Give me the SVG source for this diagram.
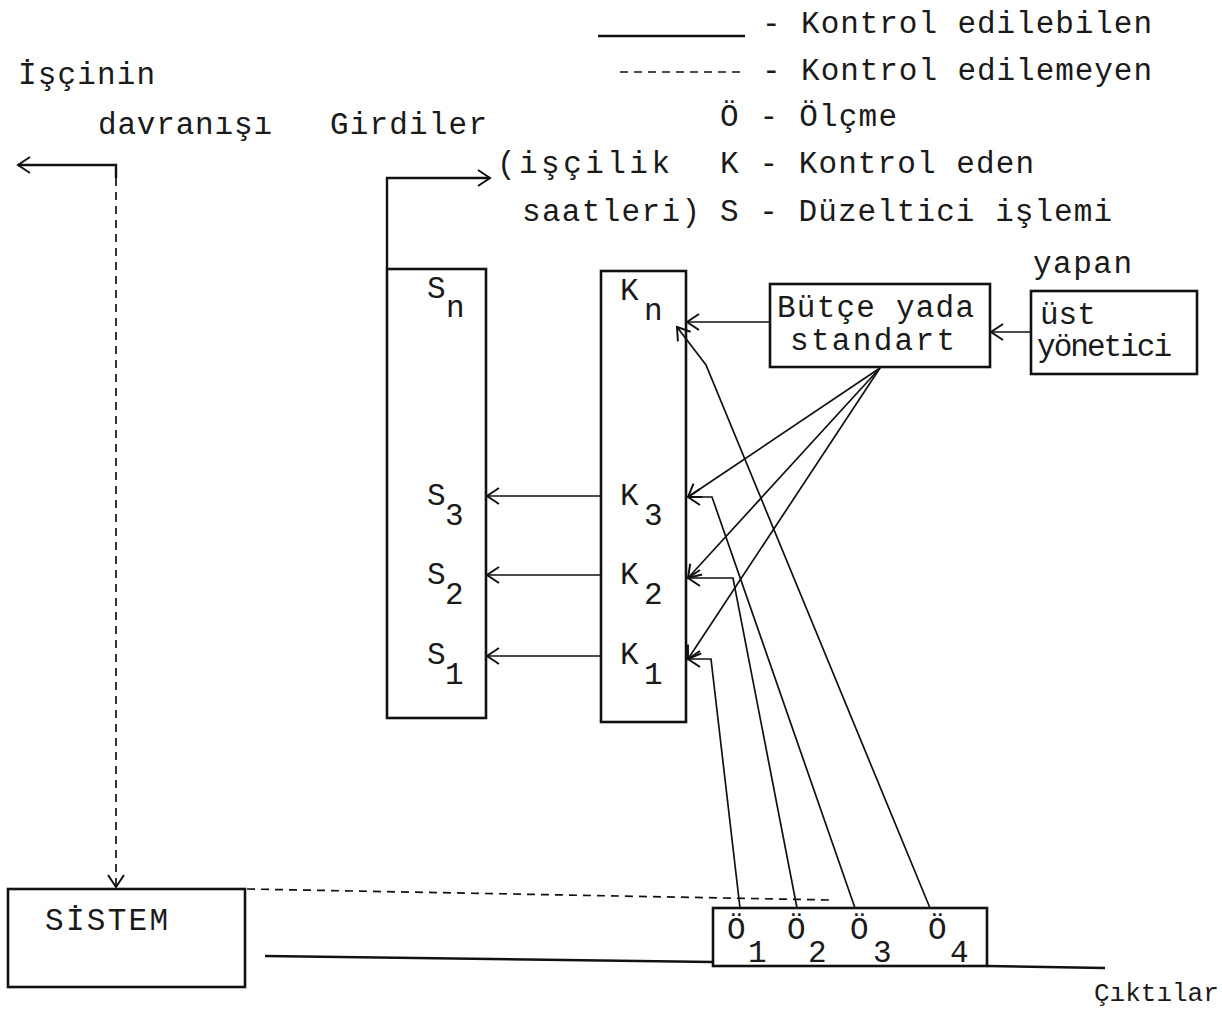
<svg xmlns="http://www.w3.org/2000/svg" width="1222" height="1018" viewBox="0 0 1222 1018">
<style>
text{font-family:"Liberation Mono","DejaVu Sans Mono",monospace;font-size:31px;fill:#1a1a1a}
.box{fill:none;stroke:#111;stroke-width:2.6}
.ln{fill:none;stroke:#111;stroke-width:1.7}
.th{fill:none;stroke:#111;stroke-width:2.4}
.ds{fill:none;stroke:#111;stroke-width:1.7;stroke-dasharray:8 6}
</style>
<defs>
<marker id="ah" markerUnits="userSpaceOnUse" viewBox="-16 -10 20 20" refX="0" refY="0" markerWidth="20" markerHeight="20" orient="auto">
<path d="M-12,-8 L0,0 L-12,8" fill="none" stroke="#111" stroke-width="2"/>
</marker>
</defs>
<rect width="1222" height="1018" fill="#fff"/>

<g id="legend">
<line x1="598" y1="36" x2="745" y2="36" class="th"/>
<text x="762" y="33" textLength="390">- Kontrol edilebilen</text>
<line x1="620" y1="72" x2="740" y2="72" class="ds"/>
<text x="762" y="80" textLength="390">- Kontrol edilemeyen</text>
<text x="720" y="126" textLength="177">Ö - Ölçme</text>
<text x="720" y="173" textLength="314">K - Kontrol eden</text>
<text x="720" y="221" textLength="392">S - Düzeltici işlemi</text>
</g>

<g id="label-isci">
<text x="18" y="84" textLength="137">İşçinin</text>
<text x="98" y="134" textLength="174">davranışı</text>
</g>
<g id="label-girdiler">
<text x="330" y="134" textLength="157">Girdiler</text>
<text x="497" y="173" textLength="173">(işçilik</text>
<text x="522" y="221" textLength="178">saatleri)</text>
</g>

<g id="node-S">
<rect x="387" y="269" width="99" height="449" class="box"/>
<text x="427" y="298">S</text><text x="446" y="317">n</text>
<text x="427" y="505">S</text><text x="445" y="525">3</text>
<text x="427" y="584">S</text><text x="445" y="604">2</text>
<text x="427" y="664">S</text><text x="445" y="684">1</text>
</g>

<g id="node-K">
<rect x="601" y="271" width="85" height="451" class="box"/>
<text x="620" y="300">K</text><text x="644" y="320">n</text>
<text x="620" y="505">K</text><text x="644" y="525">3</text>
<text x="620" y="584">K</text><text x="644" y="604">2</text>
<text x="620" y="664">K</text><text x="644" y="684">1</text>
</g>

<g id="node-butce">
<rect x="770" y="284" width="220" height="83" class="box"/>
<text x="777" y="317" textLength="197">Bütçe yada</text>
<text x="790" y="350" textLength="165">standart</text>
</g>

<g id="node-ust">
<text x="1033" y="273" textLength="99">yapan</text>
<rect x="1031" y="291" width="166" height="83" class="box"/>
<text x="1040" y="324">üst</text>
<text x="1037" y="356" textLength="135">yönetici</text>
</g>

<g id="node-sistem">
<rect x="8" y="889" width="237" height="98" class="box"/>
<text x="45" y="930" textLength="123">SİSTEM</text>
</g>

<g id="node-O">
<rect x="713" y="908" width="274" height="58" class="box"/>
<text x="727" y="939">Ö</text><text x="748" y="962">1</text>
<text x="787" y="939">Ö</text><text x="808" y="962">2</text>
<text x="850" y="939">Ö</text><text x="873" y="962">3</text>
<text x="928" y="939">Ö</text><text x="950" y="962">4</text>
</g>

<g id="label-ciktilar">
<text x="1094" y="1001" style="font-size:26px">Çıktılar</text>
</g>

<g id="connectors">
<polyline points="116,178 116,165 18,165" class="th" marker-end="url(#ah)"/>
<line x1="116" y1="178" x2="116" y2="887" class="ds" marker-end="url(#ah)"/>
<polyline points="387,268 387,178 490,178" class="th" marker-end="url(#ah)"/>
<line x1="601" y1="496" x2="487" y2="496" class="ln" marker-end="url(#ah)"/>
<line x1="601" y1="575" x2="487" y2="575" class="ln" marker-end="url(#ah)"/>
<line x1="601" y1="656" x2="487" y2="656" class="ln" marker-end="url(#ah)"/>
<line x1="770" y1="322" x2="687" y2="322" class="ln" marker-end="url(#ah)"/>
<line x1="1031" y1="332" x2="991" y2="332" class="ln" marker-end="url(#ah)"/>
<line x1="880" y1="368" x2="688" y2="497" class="ln" marker-end="url(#ah)"/>
<line x1="880" y1="368" x2="688" y2="578" class="ln" marker-end="url(#ah)"/>
<line x1="880" y1="368" x2="688" y2="659" class="ln" marker-end="url(#ah)"/>
<polyline points="740,908 711,659 688,659" class="ln" marker-end="url(#ah)"/>
<polyline points="797,908 733,578 688,578" class="ln" marker-end="url(#ah)"/>
<polyline points="855,908 712,497 688,497" class="ln" marker-end="url(#ah)"/>
<polyline points="930,908 706,365 677,327" class="ln" marker-end="url(#ah)"/>
<line x1="247" y1="889" x2="830" y2="900" class="ds"/>
<line x1="265" y1="956" x2="713" y2="962" class="th"/>
<line x1="987" y1="966" x2="1105" y2="968" class="th"/>
</g>
</svg>
